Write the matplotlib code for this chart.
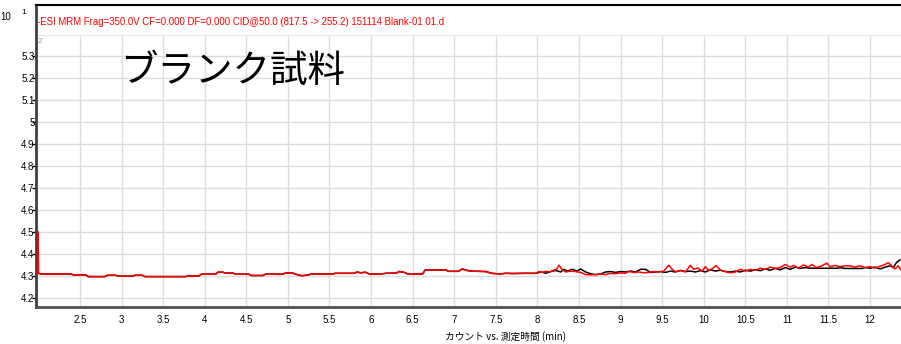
import matplotlib
matplotlib.use("Agg")
import matplotlib.pyplot as plt

plt.rcParams['font.family'] = ['Liberation Sans', 'Noto Sans CJK JP', 'DejaVu Sans']

# baseline shared by both traces up to ~8 min
early_t = [2.003, 2.03, 2.39, 2.42, 2.57, 2.60, 2.80, 2.83, 2.93, 2.96, 3.13, 3.16,
           3.25, 3.28, 3.77, 3.80, 3.93, 3.96, 4.13, 4.16, 4.22, 4.24, 4.34, 4.37,
           4.53, 4.56, 4.70, 4.73, 4.94, 4.97, 5.06, 5.10, 5.17, 5.25, 5.28, 5.54,
           5.57, 5.80, 5.83, 5.88, 5.93, 5.98, 6.10, 6.18, 6.30, 6.34, 6.40, 6.45,
           6.62, 6.65, 6.90, 6.93, 7.05, 7.10, 7.14, 7.20, 7.38, 7.45, 7.55, 7.62,
           7.70, 7.85, 7.98]
early_v = [4.312, 4.309, 4.309, 4.305, 4.305, 4.297, 4.297, 4.303, 4.303, 4.299, 4.299, 4.303,
           4.303, 4.297, 4.297, 4.300, 4.300, 4.308, 4.308, 4.317, 4.317, 4.313, 4.313, 4.308,
           4.308, 4.302, 4.302, 4.308, 4.308, 4.313, 4.313, 4.307, 4.301, 4.305, 4.309, 4.309,
           4.312, 4.312, 4.318, 4.314, 4.317, 4.309, 4.308, 4.312, 4.313, 4.320, 4.316, 4.308,
           4.309, 4.327, 4.327, 4.321, 4.321, 4.332, 4.326, 4.322, 4.320, 4.312, 4.309, 4.312,
           4.311, 4.312, 4.312]

# start of the red trace (injection spike)
spike_t = [1.975, 1.990, 1.997]
spike_v = [4.309, 4.309, 4.500]

black_t = [8.05, 8.10, 8.16, 8.22, 8.28, 8.32, 8.36, 8.42, 8.48, 8.52, 8.58, 8.64,
           8.70, 8.76, 8.82, 8.88, 8.94, 9.00, 9.06, 9.12, 9.18, 9.24, 9.30, 9.36,
           9.42, 9.48, 9.54, 9.60, 9.66, 9.72, 9.78, 9.84, 9.90, 9.96, 10.02, 10.08,
           10.14, 10.20, 10.26, 10.32, 10.38, 10.44, 10.50, 10.56, 10.62, 10.68, 10.74, 10.80,
           10.86, 10.92, 10.98, 11.04, 11.10, 11.16, 11.22, 11.28, 11.40, 11.60, 11.64, 11.70,
           11.90, 11.94, 12.00, 12.06, 12.12, 12.18, 12.24, 12.28, 12.32, 12.36]
black_v = [4.318, 4.312, 4.320, 4.325, 4.318, 4.330, 4.322, 4.330, 4.322, 4.332, 4.318, 4.310,
           4.306, 4.309, 4.318, 4.320, 4.316, 4.320, 4.318, 4.322, 4.318, 4.330, 4.330, 4.316,
           4.318, 4.320, 4.316, 4.322, 4.318, 4.325, 4.320, 4.322, 4.318, 4.324, 4.318, 4.328,
           4.322, 4.326, 4.320, 4.318, 4.322, 4.318, 4.326, 4.322, 4.328, 4.324, 4.332, 4.326,
           4.334, 4.328, 4.338, 4.330, 4.340, 4.334, 4.338, 4.335, 4.335, 4.335, 4.338, 4.334,
           4.334, 4.338, 4.335, 4.340, 4.332, 4.340, 4.346, 4.338, 4.362, 4.373]

red_t = [8.02, 8.06, 8.10, 8.15, 8.19, 8.23, 8.26, 8.30, 8.34, 8.40, 8.46, 8.52,
         8.58, 8.64, 8.70, 8.76, 8.82, 8.88, 8.94, 9.00, 9.06, 9.10, 9.16, 9.22,
         9.28, 9.34, 9.40, 9.46, 9.52, 9.58, 9.62, 9.66, 9.72, 9.78, 9.84, 9.88,
         9.93, 9.98, 10.02, 10.06, 10.10, 10.15, 10.20, 10.26, 10.32, 10.38, 10.44, 10.50,
         10.56, 10.62, 10.68, 10.74, 10.80, 10.86, 10.92, 10.98, 11.04, 11.08, 11.14, 11.20,
         11.26, 11.30, 11.36, 11.42, 11.48, 11.52, 11.58, 11.64, 11.70, 11.76, 11.82, 11.88,
         11.94, 12.00, 12.06, 12.12, 12.18, 12.22, 12.26, 12.30, 12.34, 12.37]
red_v = [4.320, 4.316, 4.321, 4.318, 4.325, 4.330, 4.349, 4.328, 4.318, 4.322, 4.320, 4.316,
         4.306, 4.305, 4.306, 4.309, 4.306, 4.312, 4.310, 4.314, 4.312, 4.320, 4.316, 4.318,
         4.314, 4.316, 4.320, 4.318, 4.322, 4.349, 4.330, 4.320, 4.324, 4.318, 4.348, 4.330,
         4.336, 4.322, 4.342, 4.325, 4.332, 4.347, 4.326, 4.320, 4.314, 4.318, 4.330, 4.322,
         4.330, 4.326, 4.335, 4.330, 4.340, 4.335, 4.338, 4.352, 4.340, 4.348, 4.336, 4.350,
         4.340, 4.352, 4.338, 4.346, 4.358, 4.342, 4.348, 4.342, 4.346, 4.346, 4.340, 4.346,
         4.338, 4.342, 4.336, 4.344, 4.352, 4.360, 4.346, 4.332, 4.346, 4.328]

x_ticks = [2.5, 3, 3.5, 4, 4.5, 5, 5.5, 6, 6.5, 7, 7.5, 8, 8.5, 9, 9.5, 10, 10.5, 11, 11.5, 12]
y_ticks = [4.2, 4.3, 4.4, 4.5, 4.6, 4.7, 4.8, 4.9, 5.0, 5.1, 5.2, 5.3]
y_labels = ['4.2', '4.3', '4.4', '4.5', '4.6', '4.7', '4.8', '4.9', '5', '5.1', '5.2', '5.3']

fig = plt.figure(figsize=(9.01, 3.44), dpi=100)
ax = fig.add_axes([36 / 901, 1 - 307 / 344, 865 / 901, 302 / 344])
ax.set_xlim(1.971, 12.372)
ax.set_ylim(4.159, 5.53)

grid_top = 5.395
for yt in y_ticks:
    ax.axhline(yt, color='#dcdcdc', lw=1, zorder=0)
ax.axhline(grid_top, color='#e6e6e6', lw=0.8, zorder=0)
ax.vlines(x_ticks, 4.159, grid_top, color='#dcdcdc', lw=1, zorder=0)

ax.plot([1.975] + early_t + black_t, [4.309] + early_v + black_v,
        color='black', lw=1.1, zorder=2)
ax.plot(spike_t + early_t + red_t, spike_v + early_v + red_v,
        color='#ff0000', lw=1.1, zorder=3)

ax.set_xticks(x_ticks)
ax.set_xticklabels([('%g' % v) for v in x_ticks])
ax.set_yticks(y_ticks)
ax.set_yticklabels(y_labels)
ax.tick_params(axis='x', length=0, pad=6, labelsize=7)
ax.tick_params(axis='y', length=3, width=1, direction='out', pad=-2, labelsize=7)

ax.spines['right'].set_visible(False)
ax.spines['left'].set_color('#404040')
ax.spines['left'].set_linewidth(2)
ax.spines['bottom'].set_color('#505050')
ax.spines['bottom'].set_linewidth(2)
ax.spines['top'].set_color('black')
ax.spines['top'].set_linewidth(1.5)

# header texts
ax.text(0.001, 0.945, '-ESI MRM Frag=350.0V CF=0.000 DF=0.000 CID@50.0 (817.5 -> 255.2) 151114 Blank-01 01.d',
        transform=ax.transAxes, color='#ff0000', fontsize=6.9, va='center', ha='left')
ax.text(0.002, 0.88, '2', transform=ax.transAxes, color='#999999', fontsize=6, va='center', ha='left')
ax.text(0.097, 0.78, 'ブランク試料', transform=ax.transAxes, fontsize=27, va='center', ha='left',
        family=['Noto Sans CJK JP', 'DejaVu Sans'])

fig.text(0.0, 1 - 17 / 344, '10', fontsize=7, va='center', ha='left')
fig.text(21 / 901, 1 - 12 / 344, '1', fontsize=6, va='center', ha='left')
fig.text(505 / 901, 1 - 337 / 344, 'カウント vs. 測定時間 (min)', fontsize=7, va='center', ha='center',
         family=['Noto Sans CJK JP', 'DejaVu Sans'])

fig.savefig('out.png', dpi=100)
